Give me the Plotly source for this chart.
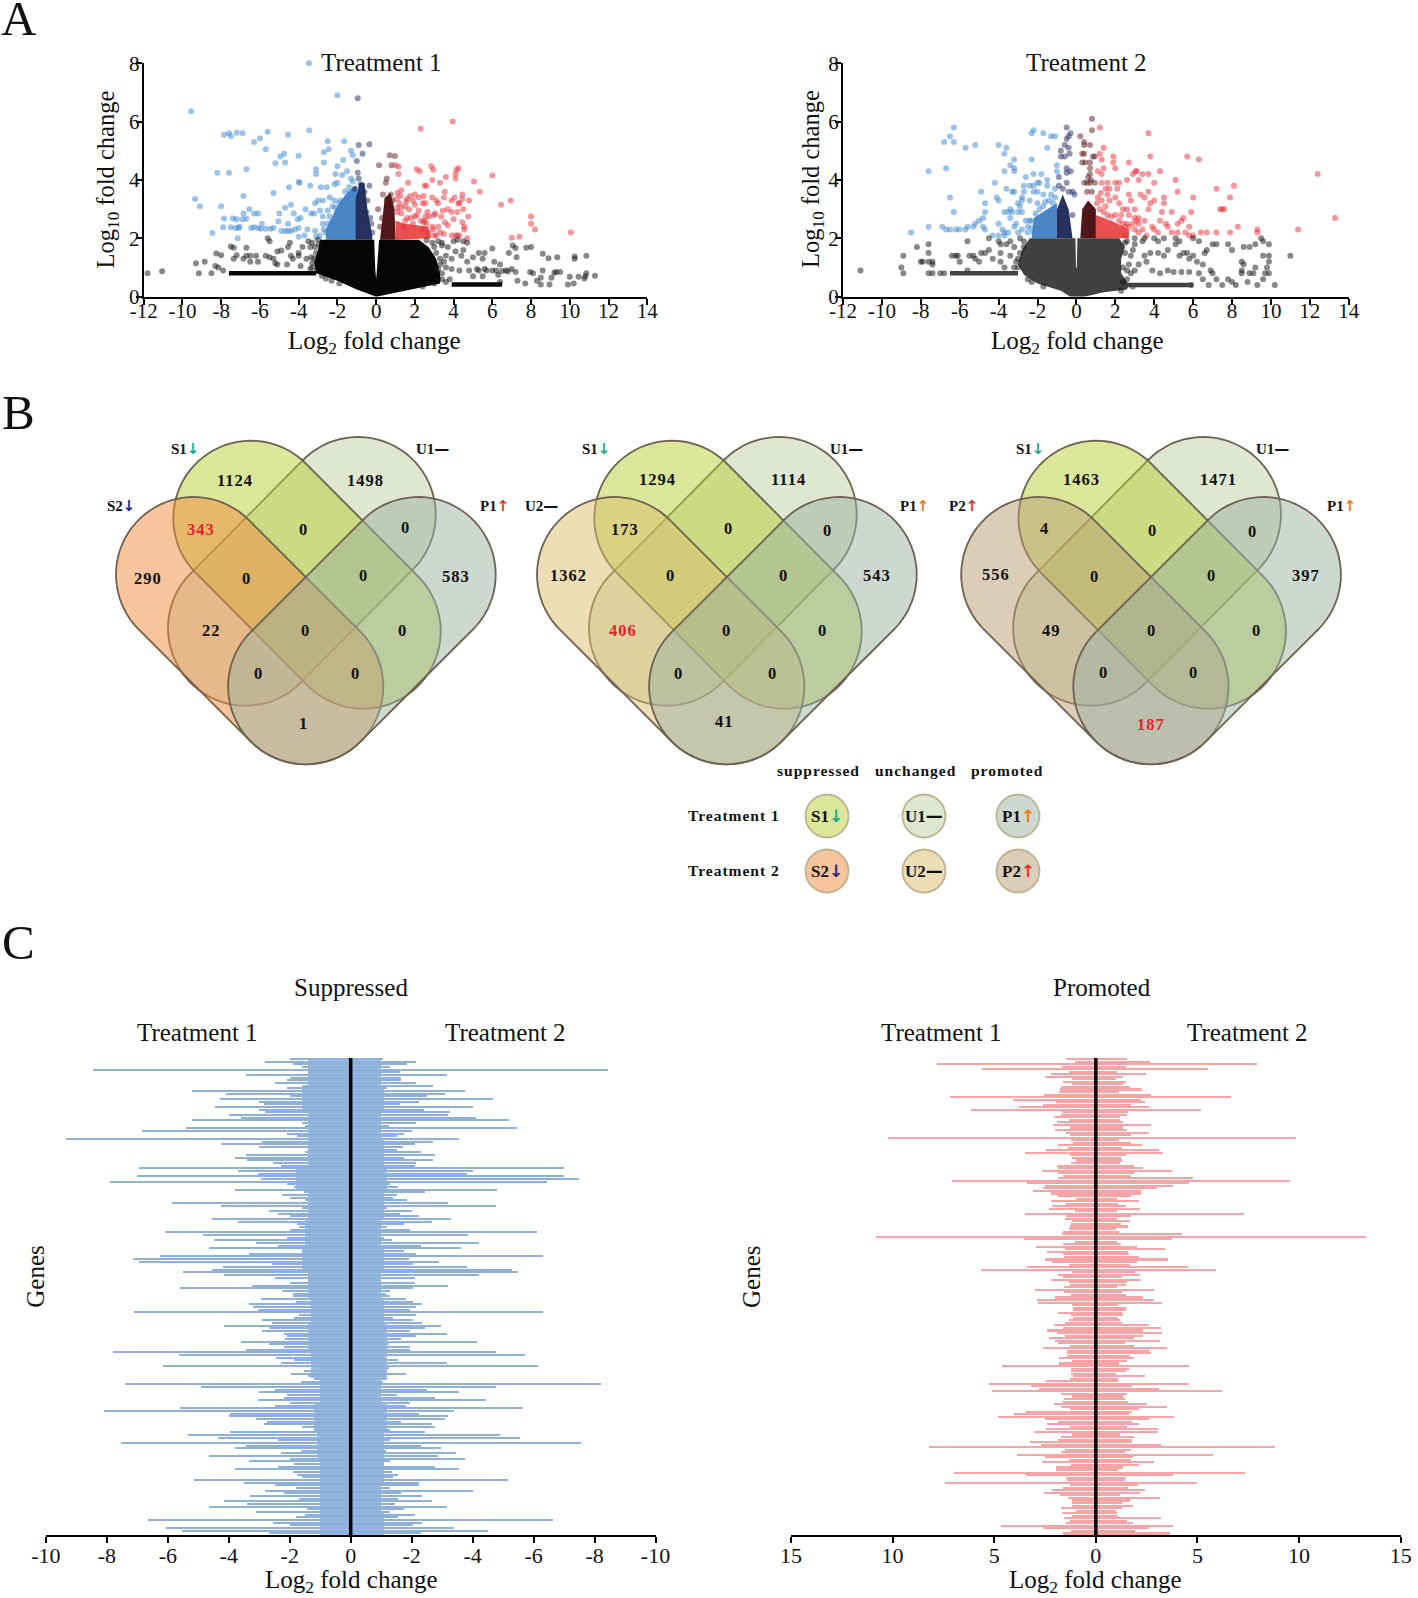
import numpy as np
import plotly.graph_objects as go

W, H = 1418, 1598
SERIF = "Liberation Serif"

# ---------- Panel A data (log2 FC, log10 FC) ----------
a1_blue = [(-3.47,8.0),(-9.55,6.35),(-7.6,5.6),(-7.85,5.55),(-7.5,5.5),(-7.2,5.62),(-6.9,5.6),(-6.3,5.3),(-6.0,5.43),(-5.6,5.65),(-5.7,5.05),(-4.55,5.55),(-3.45,5.7),(-2.0,6.9),(-2.5,5.33),(-1.65,5.33),(-2.45,5.05),(-2.7,4.95),(-1.3,5.0),(-1.2,4.85),(-4.75,4.9),(-4.95,4.8),(-4.0,4.83),(-5.2,4.57),(-4.7,4.6),(-2.7,4.6),(-1.7,4.68),(-2.0,4.47),(-6.7,4.37),(-8.2,4.25),(-7.6,4.25),(-3.1,4.37),(-3.1,4.2),(-1.5,4.3),(-1.75,4.17),(-2.1,4.2),(-2.15,3.85),(-2.0,3.9),(-1.3,4.05),(-1.2,3.95),(-4.0,3.93),(-3.95,3.9),(-3.4,3.8),(-4.5,3.75),(-2.85,3.75),(-2.55,3.75),(-5.3,3.55),(-6.85,3.45),(-9.35,3.35),(-9.1,3.1),(-8.0,3.1),(-7.85,2.68),(-7.4,2.68),(-7.2,2.65),(-6.9,2.65),(-6.85,2.85),(-6.7,2.67),(-6.55,3.0),(-6.3,2.85),(-6.1,2.85),(-5.9,2.5),(-5,2.85),(-5.05,2.58),(-4.7,3.05),(-4.4,3.15),(-4.25,2.85),(-4.55,2.5),(-4.05,2.65),(-3.9,2.7),(-3.65,3),(-3.35,2.85),(-3.2,2.85),(-7.9,2.38),(-7.5,2.38),(-7.25,2.35),(-7.1,2.35),(-7.05,2.4),(-6.45,2.35),(-6.3,2.38),(-6.1,2.35),(-5.95,2.33),(-5.7,2.33),(-5.45,2.33),(-5.3,2.35),(-4.9,2.25),(-4.7,2.25),(-4.55,2.25),(-4.4,2.25),(-4.2,2.3),(-4,2.35),(-3.55,2.3),(-3.15,2.25),(-8.45,2.18),(-7.15,2.0),(-4.0,2.05),(-3.7,2.1),(-3.1,2.05),(-2.75,2.5),(-2.7,2.3),(-2.5,2.95),(-2.25,3.1),(-3.15,3.2),(-3.0,3.3),(-2.75,3.3),(-2.4,3.4),(-2.15,3.3),(-1.9,3.2),(-1.6,3.6),(-1.5,3.4),(-1.1,3.6),(-1.4,3.75),(-2.9,2.95),(-2.6,2.2),(-2.9,2.1),(-2.5,2.5),(-2.75,2.75),(-2.4,2.75),(-2.3,2.55),(-2.1,3.05),(-1.85,3.3),(-1.35,3.55)]
a1_navy = [(-0.95,6.8),(-0.9,5.2),(-0.35,5.22),(-0.7,4.9),(-1,4.65),(-0.95,4.25),(-0.9,4.05),(-0.35,3.8),(-0.8,3.85),(-0.6,3.6),(-0.45,3.3),(-0.3,2.7),(-0.25,2.5),(-0.2,2.2),(-1.1,3.7),(-0.5,2.9)]
a1_brown = [(0.15,4.5),(0.7,4.85),(0.97,4.82),(0.8,4.5),(0.55,4.05),(0.5,3.9),(0.35,3.5),(0.55,3.3),(0.1,3.0),(0.75,3.5),(0.85,3.3),(0.3,2.7),(0.2,2.4)]
a1_red = [(3.95,6.0),(2.3,5.75),(1,4.5),(1.15,4.45),(2.1,4.37),(2.25,4.3),(2.85,4.47),(2.95,4.35),(4.25,4.4),(4.15,4.35),(4.1,4.2),(4.1,4.05),(3.6,4.1),(3.3,3.9),(2.9,4.0),(2.6,3.8),(2.5,3.8),(6,4.15),(5.05,3.95),(5.35,3.6),(4.45,3.5),(4.45,3.35),(4.05,3.4),(3.55,3.6),(3.5,3.4),(3.1,3.3),(2.9,3.4),(2.45,3.45),(2,3.5),(1.75,3.45),(1.3,3.65),(1.1,3.55),(1.65,3.9),(1.15,4.2),(6.45,3.15),(6.95,3.3),(4.8,3.3),(4.3,3.2),(4.25,3.2),(3.9,3.3),(3.7,3.0),(3.45,2.95),(3.2,3.2),(3,2.8),(2.55,3.2),(2.4,3.2),(2.65,2.9),(4.75,2.75),(4.5,3),(4.2,2.9),(4,2.65),(3.9,2.9),(3.35,2.75),(3.05,2.85),(8,2.75),(8,2.5),(8.2,2.3),(10.05,2.2),(7,2.02),(7.4,2.05),(4.7,2.0),(4.3,2.1),(4.2,2.1),(3.9,2.1),(3.1,2.1),(3.55,2.55),(3.7,2.45),(4.45,2.55),(4.55,2.4),(4.55,2.3),(4.1,2.1),(3,2.1),(2.4,2.3),(1.9,3.3),(1.5,3.1),(1.2,3.2),(1.7,3.0),(2.2,2.95),(1.3,2.85),(2.95,2.3),(3.3,2.2),(1.6,2.7),(2.0,2.75),(2.5,2.6),(2.7,2.2),(1.1,2.9),(1.3,3.05),(1.5,2.6),(1.8,2.7),(2.1,2.8),(2.3,2.6),(2.6,2.5),(2.9,2.4),(1.4,2.4),(1.9,2.5),(2.2,3.4),(1.6,3.35),(1.05,3.35),(1.25,3.45),(2.45,2.55),(2.75,2.75),(3.2,2.4),(3.5,2.15),(1.55,3.25),(2.0,3.15),(1.1,3.05),(2.55,2.75)]
a1_black = [(-11.8,0.8),(-11.05,0.87),(-9.3,1.15),(-9.15,0.8),(-8.85,1.2),(-8.5,0.8),(-8.3,1.05),(-8.15,1.0),(-8.25,1.48),(-8,1.42),(-7.9,0.9),(-7.5,1.72),(-7.35,1.68),(-7.35,1.3),(-7.2,1.42),(-6.85,1.3),(-6.7,1.68),(-6.7,1.4),(-6.5,1.4),(-6.2,1.4),(-6.1,1.2),(-6.5,1.2),(-5.7,1.4),(-5.6,2.0),(-5.5,1.9),(-5.5,1.35),(-5.3,1.3),(-5.2,1.15),(-5.1,1.55),(-5.1,1.1),(-4.9,1.58),(-4.6,1.1),(-4.55,1.7),(-4.45,1.85),(-4.4,1.4),(-4.3,1.3),(-4,1.4),(-4.0,1.5),(-3.9,1.05),(-3.8,1.7),(-3.6,1.3),(-3.5,1.9),(-3.4,1.7),(-3.3,1.15),(-3.1,1.5),(3.2,1.9),(3.4,1.85),(3.4,1.75),(3.7,1.7),(4,1.9),(4.2,1.95),(4.5,1.9),(4.7,1.85),(4.1,1.55),(4.5,1.6),(4.4,1.4),(3.9,1.3),(3.6,1.4),(4.7,1.2),(5,1.35),(5.3,1.5),(5.6,1.5),(5.5,1.3),(6,1.65),(6.1,1.2),(6.4,1.1),(6.85,1.5),(7.05,1.75),(7.2,1.67),(7.25,1.35),(7.75,1.68),(8,1.7),(8.6,1.47),(8.9,1.32),(9.35,1.35),(10.25,1.38),(10.25,1.3),(10.85,1.4),(10.85,.8),(10.8,.7),(10.75,.62),(10.45,.68),(10.2,.45),(10,.68),(9.9,.42),(9.2,.82),(9.05,.65),(8.95,.42),(8.5,.65),(8.5,.42),(8.3,.55),(8.1,.8),(8.6,.9),(7.95,.85),(7.7,.45),(7.3,.55),(7.2,.85),(7,.95),(6.7,.9),(6.4,.5),(6,.9),(5.6,.95),(5.2,.95),(4.8,.9),(4.3,.9),(3.9,.95),(3.6,1.0),(9.3,.85),(9.5,.85),(11.3,.72),(3.3,1.1),(3.4,.8),(3.8,.6),(3.2,.6),(5.0,.7),(5.5,.7),(6.3,.75),(-3.3,1.0),(-3.4,.95),(-3.05,.9),(-3.2,1.3),(-3.15,1.7),(-3.3,1.85),(-3.0,1.95),(-2.95,1.8),(-3.35,1.35),(-2.8,.72),(-2.6,.62),(-2.3,.55),(-1.9,.45),(3.0,1.7),(3.1,1.5),(2.9,1.85),(2.6,1.93),(3.3,1.3),(3.5,1.2),(3.4,.6),(3.0,.45),(3.6,.5),(3.2,.95),(2.4,.35),(5.3,.9),(5.7,.9),(6.2,.9),(6.5,.88),(6.8,.87)]
a1_rows = [([-7.6,-3.1],0.8),([3.9,6.5],0.42)]
a1_dense_black = [(-0.1,0.02),(-1,0.25),(-2,0.55),(-3.1,0.8),(-3.2,1.2),(-3.0,1.6),(-2.9,1.95),(-0.1,1.95),(-0.05,1.0),(0,0.6),(0.05,1.0),(0.15,1.95),(2.2,1.95),(2.7,1.7),(3.1,1.3),(3.3,.8),(3.3,.45),(2,.27),(1,.12),(0.3,.03),(0,0)]
a1_dense_blue = [(-2.6,1.95),(-2.6,2.3),(-2.3,2.7),(-2.1,3.0),(-1.7,3.4),(-1.2,3.75),(-1,3.8),(-1,1.95)]
a1_dense_navy = [(-1.05,1.95),(-1.05,3.4),(-0.85,3.9),(-0.6,3.9),(-0.45,3.0),(-0.2,2.1),(-0.2,1.95)]
a1_dense_brown = [(0.2,1.95),(0.3,2.5),(0.45,3.4),(0.75,3.55),(0.95,3.0),(1.0,1.95)]
a1_dense_red = [(1,1.95),(1,2.6),(1.5,2.5),(2.7,2.4),(2.85,2.0)]

a2_blue = [(-6.3,5.8),(-6.5,5.5),(-6.8,5.3),(-6.3,5.3),(-5.7,5.1),(-5.2,5.2),(-4,5.2),(-3.6,5.1),(-3.7,4.9),(-3.2,4.7),(-3.4,4.5),(-3.2,4.4),(-3.7,4.3),(-3.2,4.3),(-6.7,4.4),(-7.6,4.3),(-2.3,5.6),(-2.2,5.7),(-1.7,5.6),(-1.3,5.5),(-1.1,5.5),(-1.5,5.1),(-2.3,4.7),(-1,4.5),(-1,4.3),(-1.8,4.2),(-2.2,4.2),(-2.6,4.1),(-4.2,3.9),(-1.5,4.0),(-2.7,3.8),(-2.4,3.8),(-2.2,3.8),(-2,3.9),(-1.9,3.9),(-1.5,3.8),(-3.6,3.7),(-2.7,3.6),(-2.2,3.6),(-2,3.6),(-3.3,3.6),(-3.2,3.6),(-4.9,3.6),(-6.5,3.4),(-4.1,3.4),(-4,3.3),(-4.7,3.2),(-2.8,3.4),(-2.8,3.3),(-3,3.2),(-2.9,3.1),(-2.4,3.3),(-2,3.2),(-1.7,3.1),(-1.2,3.2),(-6.3,2.9),(-3.4,3),(-3.5,2.9),(-3.7,2.9),(-3.3,2.9),(-3,2.9),(-2.8,2.9),(-4.7,2.9),(-4.8,2.7),(-3.4,2.7),(-5,2.6),(-5.2,2.5),(-5.3,2.4),(-5.6,2.4),(-5.7,2.3),(-6,2.3),(-6.2,2.3),(-6.7,2.3),(-6.5,2.3),(-6.9,2.4),(-7.6,2.4),(-8.5,2.2),(-4,2.5),(-3.8,2.3),(-3.7,2.2),(-3.5,2.2),(-4.3,2.1),(-4,2.1),(-3.7,2.1),(-4.8,2.4),(-4.7,2.3),(-3.1,2.5),(-3.2,2.4),(-3,2.2),(-2.8,2.3),(-2.6,2.6),(-2.4,2.6),(-2.5,2.2),(-2.2,2.2),(-1.7,3.5),(-1.3,3.5),(-1.1,3.7),(-2.35,2.6),(-2.1,2.85),(-1.9,3.0),(-1.6,3.25),(-1.4,3.3),(-1.1,3.4),(-2.3,2.35),(-2.5,2.4)]
a2_navy = [(-0.5,5.8),(-0.3,5.6),(-0.4,5.5),(-0.5,5.4),(-0.6,5.2),(-0.4,5.1),(-0.8,5),(-0.35,4.9),(-0.8,4.8),(-0.6,4.8),(-0.5,4.4),(-0.3,4.3),(-0.5,4.25),(-0.9,4.1),(-0.9,3.8),(-0.5,3.9),(-0.2,3.6),(-0.1,3.5),(-0.2,2.8),(-0.7,3.7),(-0.4,3.6)]
a2_brown = [(0.8,6.1),(0.8,5.7),(0.2,5.5),(0.4,5.3),(0.4,5.2),(0.7,5.2),(0.3,4.9),(0.4,4.9),(0.95,4.8),(0.85,4.8),(0.3,4.6),(0.45,4.6),(0.7,4.6),(0.7,4.4),(0.7,4.2),(0.6,4.1),(0.75,4),(0.4,3.9),(0.55,3.9),(0.7,3.9),(0.95,3.9),(0.55,3.6),(0.8,3.6)]
a2_red = [(1.2,5.8),(3.7,5.6),(1.4,5.1),(1.2,4.9),(1.9,4.8),(3.8,4.8),(5.7,4.8),(6.3,4.7),(1.3,4.7),(1.9,4.6),(2.7,4.6),(1.4,4.4),(2,4.4),(1.1,4.3),(3.05,4.3),(3.1,4.3),(2.9,4.2),(3.4,4.2),(3.7,4.2),(4.3,4.3),(1.3,4.2),(2.6,4),(3.2,4),(5.1,4),(12.4,4.2),(1.3,3.9),(1.6,3.9),(2,3.9),(2.2,3.9),(4,3.9),(8.1,3.8),(7.2,3.7),(1.5,3.7),(1.7,3.7),(2.1,3.7),(3.7,3.6),(5.2,3.6),(2.7,3.5),(3.3,3.5),(3.5,3.4),(6,3.4),(7.9,3.4),(4.5,3.4),(2.8,3.3),(4,3.3),(4.5,3.2),(3.8,3.2),(3,3),(3.7,3),(7.4,3),(7.5,3),(7.6,3),(13.3,2.7),(4.4,2.9),(4.9,2.9),(5.9,2.9),(3.2,2.7),(3.1,2.6),(3.5,2.6),(4.3,2.6),(4.6,2.5),(4.7,2.4),(5.2,2.5),(5.4,2.6),(5.5,2.7),(5.8,2.4),(6,2.1),(6.4,2.2),(6.7,2.2),(7.2,2.2),(7.9,2.2),(8.3,2.4),(9.3,2.3),(9.3,2.2),(11.4,2.3),(5.6,2.2),(5.8,2.1),(3.9,2.4),(4,2.3),(3.6,2.1),(3.2,2.2),(2.5,2.1),(2.5,2.4),(2.7,2.4),(3,2.3),(4.2,2.2),(4.9,2.2),(5.2,2.2),(1.3,3.3),(1.7,3.3),(2.2,3.2),(2.6,3.0),(1.5,3.1),(2.3,2.8),(1.05,3.2),(1.2,3.0),(1.4,2.9),(1.6,2.8),(1.8,2.75),(2,2.8),(2.2,2.6),(2.4,2.5),(2.6,2.5),(2.9,2.5),(3.2,2.5),(3.4,2.3),(1.1,3.4),(1.25,3.55),(1.6,3.5),(2.0,3.4),(2.4,3.0),(2.7,2.8),(3.0,2.7)]
a2_black = [(-11.1,.9),(-8.9,1.4),(-9,1),(-8.9,.8),(-8.2,1.7),(-8,1.2),(-7.9,1.2),(-7.6,1.8),(-7.6,1.5),(-7.6,1.2),(-7.4,1.1),(-7.6,.8),(-7.4,.8),(-7.4,1.2),(-7.0,.8),(-6.8,.8),(-6.4,1.4),(-6.2,1.4),(-6.1,1.4),(-6,1.2),(-5.6,1.9),(-5.5,1.4),(-5.3,1.4),(-5.2,1.3),(-5,1.2),(-4.9,1.5),(-4.7,1.5),(-4.5,1.6),(-4.5,2),(-4.3,1.3),(-4,1.9),(-3.9,1.8),(-3.9,1.5),(-3.6,1.8),(-3.9,1.2),(-3.7,1.0),(-3.4,1.4),(-3.4,1.9),(-3.2,1.7),(-2.9,2),(-3,1.3),(-3,1),(-2.7,1.7),(-5.6,.9),(2.6,1.9),(3,2),(3.4,1.9),(3.5,2),(4,2),(4.2,1.9),(4.5,2),(5.1,2),(5.3,1.9),(6,2),(6.3,1.9),(7,1.8),(7.2,1.8),(7.8,1.8),(8,1.6),(8.6,1.7),(8.9,1.7),(9.2,1.8),(9.5,2),(9.6,1.9),(9.9,1.8),(11,1.4),(9.6,1.4),(9.9,1.4),(9.9,1.2),(9.8,1),(9.2,1),(8.5,1.2),(8.6,1.1),(8.5,.9),(8.5,.8),(8.9,.8),(9.1,.8),(9.7,.8),(9.9,.8),(9.6,.6),(8.8,.5),(9.3,.4),(10.2,.4),(8.2,.4),(8,.5),(7.8,.6),(7.5,.4),(7.2,.6),(7,.8),(6.8,.4),(6.9,.9),(6.5,1.1),(6.2,1.2),(6,1.4),(6.6,1.5),(6.7,1.6),(5.7,1.5),(5.8,1.3),(5.5,1.5),(5.3,1.4),(5.1,1.8),(4.7,1.6),(4.5,1.4),(4.2,1.5),(3.8,1.5),(3.5,1.4),(3.6,1.2),(3.2,1.1),(3,.9),(3.9,.9),(4.3,.8),(4.7,.9),(5,.85),(5.4,.85),(5.8,.85),(6.3,.8),(6.5,.6),(5.9,.4),(2.9,1.6),(3,1.8),(2.8,1.4),(2.7,1.1),(2.8,.8),(-3.1,1.2),(-3.2,1.0),(-2.9,1.5),(-2.7,1.9),(-2.5,.6),(-2.3,.5),(-1.7,.35),(2.5,1.85),(2.5,1.5),(2.4,1.0),(2.6,.9),(2.6,.6),(2.4,.5),(2.9,.35),(2.3,.2)]
a2_rows = [([-6.5,-3.0],0.8),([2.6,6.0],0.4)]
a2_dense_black = [(-0.3,0),(-0.8,.2),(-2,.45),(-2.7,.75),(-3,1.1),(-2.8,1.6),(-2.4,2),(-0.05,2),(-0.02,1.0),(0.02,1.0),(0.05,2),(2.2,2),(2.5,1.7),(2.3,1.3),(2.3,.8),(2.7,.4),(2.6,.25),(1.4,.15),(0.4,0)]
a2_dense_blue = [(-2.3,2.0),(-2.2,2.7),(-1.5,3.0),(-1.0,3.2),(-1.0,2.0)]
a2_dense_navy = [(-1.0,2.0),(-1.0,3.0),(-0.7,3.5),(-0.4,3.0),(-0.2,2.0)]
a2_dense_brown = [(0.2,2.0),(0.3,3.0),(0.6,3.3),(1.0,3.0),(1.0,2.0)]
a2_dense_red = [(1,2),(1,2.8),(1.8,2.6),(2.7,2.3),(2.7,2)]

x_ticks_a = list(range(-12, 15, 2))
y_ticks_a = [0, 2, 4, 6, 8]

# ---------- Panel B data ----------
venn_counts = [
    [("1124",231,471),("1498",359,471),("343",197,519),("0",298,519),("0",398,517),("290",145,567),("0",242,567),("0",357,565),("583",447,566),("22",207,618),("0",300,618),("0",395,618),("0",254,661),("0",349,661),("1",298,710)],
    [("1294",645,470),("1114",773,470),("173",613,519),("0",715,518),("0",812,520),("1362",558,565),("0",658,565),("0",769,565),("543",860,565),("406",611,618),("0",713,618),("0",807,618),("0",666,661),("0",758,661),("41",711,708)],
    [("1463",1061,470),("1471",1195,470),("4",1025,518),("0",1131,520),("0",1229,521),("556",977,564),("0",1074,566),("0",1188,565),("397",1281,565),("49",1031,618),("0",1130,618),("0",1233,618),("0",1082,660),("0",1171,660),("187",1129,711)],
]
venn_red_counts = ["343", "406", "187"]
venn_centers = [305.7, 726.7, 1150.9]
venn_big_colors = ["rgba(239,137,61,.5)", "rgba(219,187,107,.5)", "rgba(185,155,113,.5)"]
ARROW = {"S1": ("↓", "#14AE8C"), "S2": ("↓", "#1F2A7A"), "U1": ("—", "#111"), "U2": ("—", "#111"), "P1o": ("↑", "#F07A13"), "P1r": ("↑", "#E8321F"), "P2": ("↑", "#E8321F")}
venn_labels = [
    [("S1",181,440),("U1",424,440),("S2",119,496),("P1r",485,496)],
    [("S1",585,440),("U1",830,440),("U2",531,496),("P1o",897,496)],
    [("S1",1010,440),("U1",1248,440),("P2",945,496),("P1o",1316,496)],
]

# ---------- Panel C data: magnitudes per gene, read row by row ----------
sup_t1 = [2.0,2.8,1.9,1.6,8.45,1.4,3.45,2.0,2.1,2.5,1.5,2.1,5.2,4.1,2.0,4.3,3.0,2.85,4.45,3.0,2.8,4.0,3.6,5.2,1.6,1.5,5.4,6.85,2.1,1.75,9.35,2.9,4.25,3.0,1.4,1.5,3.45,3.8,3.4,2.55,2.3,6.95,3.7,3.05,7.0,2.95,7.9,2.1,1.85,3.8,1.55,2.25,2.0,1.5,5.85,4.25,1.6,2.7,2.4,2.0,4.55,3.7,1.75,1.7,2.0,6.1,4.85,2.1,4.5,3.1,2.4,4.65,1.6,3.35,6.25,7.15,6.95,2.6,4.2,4.55,5.5,4.15,2.5,1.4,2.0,3.25,5.6,2.25,1.9,1.9,2.95,1.8,3.35,3.2,3.05,
          7.1,1.7,1.85,2.9,2.6,4.15,2.7,2.9,2.2,2.1,2.15,3.6,2.7,2.2,3.45,7.8,5.65,2.45,1.85,2.3,6.15,1.0,1.55,1.95,1.4,1.2,1.65,7.4,4.9,2.5,3.0,2.1,2.2,3.05,2.0,2.5,5.6,8.1,3.95,4.0,3.1,2.75,2.85,1.6,1.2,3.95,5.35,4.35,2.4,7.55,3.45,3.8,1.65,2.3,4.65,2.0,3.35,1.85,2.4,3.8,1.9,1.75,1.6,5.15,3.5,2.5,1.8,2.8,2.2,3.3,1.7,4.15,3.4,4.65,1.45,3.1,1.5,1.8,6.65,2.55,2.0,6.05,5.55,2.7]
sup_t2 = [1.07,2.15,1.85,1.3,8.45,1.6,3.15,1.65,1.65,2.15,2.7,1.2,3.75,3.1,2.5,4.65,2.25,1.6,4.0,2.4,3.25,3.2,4.1,5.2,2.15,1.25,5.45,2.0,1.75,1.5,3.55,2.7,2.1,1.7,1.5,2.3,2.75,1.75,2.7,2.15,2.1,7.0,4.0,3.8,7.0,7.5,6.45,1.3,1.55,4.8,2.45,1.5,1.4,1.85,3.2,4.75,1.2,2.0,1.6,2.25,3.3,2.65,1.75,1.2,1.95,6.1,3.85,1.1,1.35,4.2,2.3,3.6,1.75,2.15,6.3,1.9,2.9,2.05,3.8,5.3,5.5,4.2,2.1,1.0,2.1,3.2,2.05,1.3,1.15,1.3,1.8,2.05,2.35,2.15,1.95,
          6.3,2.15,1.4,2.05,2.35,2.95,2.45,1.95,3.15,2.15,1.65,4.15,1.25,1.95,1.95,4.75,5.7,1.1,1.55,3.15,6.15,1.25,1.2,1.8,1.15,1.2,1.05,8.2,4.75,2.5,3.55,1.5,2.75,4.45,1.95,1.8,5.65,3.4,2.25,3.2,3.1,1.65,2.65,2.75,1.3,2.45,4.9,5.55,1.3,7.55,2.3,2.95,1.15,3.45,2.85,3.75,1.3,1.1,2.75,3.55,1.35,1.55,1.4,5.15,2.25,2.25,1.3,4.0,1.65,2.35,1.55,2.65,1.45,3.15,1.75,1.3,2.1,1.55,6.65,2.35,2.05,3.4,4.5,2.3]
# silhouette of the solid core, one reading per 10 rows
sup_core_t1 = [1.4,1.6,1.4,1.4,1.8,1.4,1.5,1.6,1.4,1.3,1.4,1.3,1.0,1.2,1.1,1.0,1.0,1.0]
sup_core_t2 = [1.0,1.1,1.0,1.1,1.2,1.1,1.0,1.1,1.0,1.1,1.2,1.2,1.0,1.2,1.1,1.1,1.0,1.1]
pro_t1 = [1.45,1.05,7.8,1.65,5.6,1.3,2.2,2.5,1.15,1.6,1.15,1.7,1.75,1.8,2.55,7.2,4.1,1.95,2.6,3.8,6.15,1.65,1.7,2.05,1.3,1.9,2.1,1.25,2.0,1.45,1.25,10.25,1.2,1.1,1.85,1.35,2.45,3.5,1.25,1.15,1.0,1.2,1.9,1.85,2.65,1.85,1.6,1.85,7.1,3.4,2.5,2.6,3.1,2.2,1.85,1.0,2.2,1.45,2.15,2.3,1.05,3.5,1.45,1.5,1.15,1.2,1.25,1.3,1.6,1.65,10.8,3.55,1.05,1.6,2.95,1.5,2.4,1.6,1.55,2.5,2.15,1.3,3.4,5.65,1.15,1.85,1.6,2.2,1.3,1.25,1.55,3.0,1.55,1.2,2.0,2.9,2.85,1.15,1.1,
          1.1,1.85,1.2,1.1,1.3,1.5,2.05,1.6,2.4,1.9,1.5,2.3,2.0,1.85,1.25,2.6,1.4,1.4,1.4,1.8,1.15,1.8,4.6,1.2,1.2,1.2,1.1,1.25,2.45,5.25,3.2,2.8,5.1,1.7,1.15,1.55,1.6,2.05,1.7,1.25,3.45,4.05,4.8,2.5,1.85,2.4,1.25,2.45,3.05,1.15,1.7,1.85,3.25,2.7,8.2,1.5,1.7,3.9,2.5,1.3,2.65,1.2,1.95,1.95,7.0,3.45,1.45,1.4,7.4,1.25,1.6,2.15,2.55,1.75,1.35,1.15,1.15,1.15,1.7,1.0,1.65,1.15,1.55,1.25,1.45,4.65,2.6,1.2,1.6]
pro_t2 = [1.55,2.65,7.95,1.5,5.5,1.05,2.45,1.35,1.0,1.5,1.35,1.7,2.25,1.15,2.7,6.65,2.2,2.4,1.75,2.6,5.15,1.6,1.55,1.2,1.2,1.35,2.7,1.35,1.55,2.6,1.75,9.85,1.15,1.75,2.25,1.3,3.1,3.3,1.5,1.25,1.3,1.2,1.9,2.3,3.75,1.9,1.75,4.8,9.55,4.6,3.8,3.0,2.2,2.2,1.75,1.05,2.1,1.1,1.5,2.15,1.05,7.3,1.75,1.05,1.7,1.25,1.6,1.0,1.15,4.25,13.3,3.75,1.05,1.25,2.0,3.4,1.6,1.65,2.1,3.55,2.0,1.7,4.55,5.9,1.95,2.15,1.3,2.2,1.55,1.5,1.05,2.85,1.3,1.5,2.3,2.85,3.25,1.1,1.5,
          1.5,1.3,1.35,1.1,1.2,1.3,2.6,3.2,2.3,3.25,2.3,1.9,3.15,1.45,1.9,3.5,2.6,2.7,1.7,1.9,1.55,1.15,4.6,1.65,1.5,1.0,2.4,1.1,1.1,4.6,1.8,3.1,6.2,1.55,1.35,1.45,1.6,2.5,3.5,2.1,1.8,1.65,3.85,2.6,1.8,2.1,1.55,3.05,3.05,1.2,1.9,1.8,1.8,3.2,8.8,1.75,1.45,5.75,1.85,1.75,2.85,2.1,1.35,1.1,7.35,3.8,1.5,1.45,5.0,2.05,1.6,2.4,2.15,1.2,3.15,1.7,1.3,1.85,1.3,1.0,1.05,1.1,3.2,1.55,1.85,3.8,2.6,1.95,3.65]
x_ticks_c1 = [-10,-8,-6,-4,-2,0,2,4,6,8,10]
x_labels_c1 = ["-10","-8","-6","-4","-2","0","-2","-4","-6","-8","-10"]
x_ticks_c2 = [-15,-10,-5,0,5,10,15]
x_labels_c2 = ["15","10","5","0","5","10","15"]
LEG_ROWS = [("Treatment 1", [("S1",827,816,"#DAE79A"),("U1",924,816,"#DFE7D0"),("P1o",1018,816,"#CDD8D0")], 816),
            ("Treatment 2", [("S2",827,871,"#F7C49E"),("U2",924,871,"#EDDDB5"),("P2",1018,871,"#DCCDB8")], 871)]

# ---------- helpers ----------
fig = go.Figure()

def dom_x(a, b): return [a / W, b / W]
def dom_y(top, bottom): return [1 - bottom / H, 1 - top / H]

def ann(text, x, y, size=25, color="#111", bold=False, rot=0):
    if bold:
        text = "<b>" + text + "</b>"
    fig.add_annotation(text=text, x=x, y=y, xref="x5", yref="y5", showarrow=False, textangle=rot,
                       font=dict(family=SERIF, size=size, color=color), xanchor="center", yanchor="middle")

def stadium(c1, c2, r):
    a = np.arctan2(c2[1] - c1[1], c2[0] - c1[0])
    t1 = a + np.linspace(np.pi / 2, 3 * np.pi / 2, 40)
    t2 = a + np.linspace(-np.pi / 2, np.pi / 2, 40)
    xs = np.r_[c1[0] + r * np.cos(t1), c2[0] + r * np.cos(t2)]
    ys = np.r_[c1[1] + r * np.sin(t1), c2[1] + r * np.sin(t2)]
    return "M" + "L".join(f"{x:.1f},{y:.1f}" for x, y in zip(xs, ys)) + "Z"

def scat(pts, color, ax, alpha=.5, size=6):
    xs, ys = zip(*pts)
    fig.add_trace(go.Scatter(x=xs, y=ys, mode="markers", xaxis=ax[0], yaxis=ax[1], cliponaxis=False, showlegend=False,
                             marker=dict(size=size, color=color, opacity=alpha, line=dict(width=0))))

def dense(pts, color, ax):
    xs, ys = zip(*pts)
    fig.add_trace(go.Scatter(x=list(xs) + [xs[0]], y=list(ys) + [ys[0]], mode="lines", fill="toself", fillcolor=color,
                             line=dict(width=0, color=color), xaxis=ax[0], yaxis=ax[1], showlegend=False))

def volcano(ax, rows, blk, blue, navy, brown, red, dblack, dblue, dnavy, dbrown, dred, black_col):
    dense(dblue, "rgba(54,120,190,.9)", ax); dense(dnavy, "rgba(26,38,90,.95)", ax); dense(dbrown, "rgba(72,10,12,.95)", ax); dense(dred, "rgba(228,48,46,.85)", ax)
    scat(blue, "#3C85CF", ax); scat(navy, "#1E2A5E", ax); scat(brown, "#5A1A1A", ax); scat(red, "#E8303A", ax)
    dense(dblack, black_col, ax)
    scat(blk, "#111111", ax, alpha=.5)
    for xr, y in rows:
        fig.add_trace(go.Scatter(x=xr, y=[y, y], mode="lines", line=dict(color=black_col, width=4.5), xaxis=ax[0], yaxis=ax[1], showlegend=False))

def butterfly(ax, left, right, core_l, core_r, color, core_color, thick):
    n = len(left)
    rows = list(range(n))
    if core_l:
        cl = np.repeat(core_l, 10)[:n]; cr = np.repeat(core_r, 10)[:n]
        cl = np.r_[cl, np.full(n - len(cl), cl[-1])]; cr = np.r_[cr, np.full(n - len(cr), cr[-1])]
        fig.add_trace(go.Bar(y=rows, x=-cl, orientation="h", width=1.0, marker=dict(color=core_color, line=dict(width=0)), xaxis=ax[0], yaxis=ax[1], showlegend=False))
        fig.add_trace(go.Bar(y=rows, x=cr, orientation="h", width=1.0, marker=dict(color=core_color, line=dict(width=0)), xaxis=ax[0], yaxis=ax[1], showlegend=False))
    fig.add_trace(go.Bar(y=rows, x=-np.array(left), orientation="h", width=thick, marker=dict(color=color, line=dict(width=0)), xaxis=ax[0], yaxis=ax[1], showlegend=False))
    fig.add_trace(go.Bar(y=rows, x=np.array(right), orientation="h", width=thick, marker=dict(color=color, line=dict(width=0)), xaxis=ax[0], yaxis=ax[1], showlegend=False))
    fig.add_trace(go.Scatter(x=[0, 0], y=[-.5, n - .5], mode="lines", line=dict(color="black", width=3.5), cliponaxis=False, xaxis=ax[0], yaxis=ax[1], showlegend=False, hoverinfo="skip"))

# ---------- panel A ----------
volcano(("x","y"), a1_rows, a1_black, a1_blue, a1_navy, a1_brown, a1_red, a1_dense_black, a1_dense_blue, a1_dense_navy, a1_dense_brown, a1_dense_red, "#050505")
volcano(("x2","y2"), a2_rows, a2_black, a2_blue, a2_navy, a2_brown, a2_red, a2_dense_black, a2_dense_blue, a2_dense_navy, a2_dense_brown, a2_dense_red, "#414141")

# ---------- panel C ----------
butterfly(("x3","y3"), sup_t1, sup_t2, sup_core_t1, sup_core_t2, "#8DB1DC", "#9CBBDF", 0.55)
butterfly(("x4","y4"), pro_t1, pro_t2, None, None, "#F5A5A6", None, 0.62)

# dummy trace so that the overlay canvas axes exist
fig.add_trace(go.Scatter(x=[0], y=[0], xaxis="x5", yaxis="y5", mode="markers", marker=dict(opacity=0), showlegend=False, hoverinfo="skip"))

def ax_style(size, standoff):
    return dict(showgrid=False, zeroline=False, showline=True, linecolor="black", linewidth=2, ticks="outside", tickwidth=2, ticklen=6,
                tickcolor="black", ticklabelstandoff=standoff, tickfont=dict(family=SERIF, size=size, color="#111"))
Y_TOP, Y_BOT = 63.2, 296.7
x_labels_a = [str(v) for v in x_ticks_a]
fig.update_layout(
    width=W, height=H, autosize=False, margin=dict(l=0, r=0, t=0, b=0, autoexpand=False), paper_bgcolor="white", plot_bgcolor="rgba(0,0,0,0)",
    barmode="overlay", bargap=0, showlegend=False, font=dict(family=SERIF),
    xaxis=dict(domain=dom_x(143.7, 647.3), range=[-12, 14], tickvals=x_ticks_a, ticktext=x_labels_a, anchor="y", **ax_style(21, -12)),
    yaxis=dict(domain=dom_y(Y_TOP, Y_BOT), range=[0, 8], tickvals=y_ticks_a, anchor="x", **ax_style(21, -8)),
    xaxis2=dict(domain=dom_x(843, 1348.7), range=[-12, 14], tickvals=x_ticks_a, ticktext=x_labels_a, anchor="y2", **ax_style(21, -12)),
    yaxis2=dict(domain=dom_y(Y_TOP, Y_BOT), range=[0, 8], tickvals=y_ticks_a, anchor="x2", **ax_style(21, -8)),
    xaxis3=dict(domain=dom_x(45.9, 655.5), range=[-10, 10], tickvals=x_ticks_c1, ticktext=x_labels_c1, anchor="y3", **ax_style(22, -6)),
    yaxis3=dict(domain=dom_y(1058, 1535), range=[len(sup_t1) - .5, -.5], visible=False, anchor="x3"),
    xaxis4=dict(domain=dom_x(791, 1400.7), range=[-15, 15], tickvals=x_ticks_c2, ticktext=x_labels_c2, anchor="y4", **ax_style(22, -6)),
    yaxis4=dict(domain=dom_y(1058, 1535), range=[len(pro_t1) - .5, -.5], visible=False, anchor="x4"),
    xaxis5=dict(domain=[0, 1], range=[0, W], visible=False, fixedrange=True, anchor="y5"),
    yaxis5=dict(domain=[0, 1], range=[H, 0], visible=False, fixedrange=True, anchor="x5"),
)

# ---------- panel B shapes ----------
shapes = []
R = 77.6
for cx, big in zip(venn_centers, venn_big_colors):
    cy = 574.6
    outline = dict(color="#6E6150", width=1.8)
    defs = [
        ((cx + 52.4, 514.6), (cx - 60.1, 628.1), "rgba(191,207,161,.5)"),
        ((cx - 54.8, 518.3), (cx + 57.4, 631.1), "rgba(181,207,53,.5)"),
        ((cx - 112.1, cy), (cx, cy + 112.1), big),
        ((cx + 112.4, cy), (cx, cy + 112.1), "rgba(155,177,161,.5)"),
    ]
    for c1, c2, col in defs:
        shapes.append(dict(type="path", path=stadium(c1, c2, R), xref="x5", yref="y5", fillcolor=col, line=outline, layer="below"))
for _, cells, _y in LEG_ROWS:
    for name, x, y, col in cells:
        shapes.append(dict(type="circle", xref="x5", yref="y5", x0=x - 21.5, x1=x + 21.5, y0=y - 21.5, y1=y + 21.5, fillcolor=col, line=dict(color="#BDB38E", width=1.8), layer="below"))
fig.update_layout(shapes=shapes)

SC = W / 1391.0
def sp(t): return f'<span style="letter-spacing:1px">{t}</span>'
for cells, redv in zip(venn_counts, venn_red_counts):
    for txt, x, y in cells:
        ann(sp(txt), x * SC, y * SC, size=16.5, bold=True, color="#E8232A" if txt == redv else "#111")

def lab(key):
    arrow, col = ARROW[key]
    return f'{key[:2]}<span style="color:{col};font-family:DejaVu Sans">{arrow}</span>'
for cells in venn_labels:
    for key, x, y in cells:
        ann(lab(key), x * SC, y * SC, size=15, bold=True)

for txt, x in [("suppressed", 818), ("unchanged", 915), ("promoted", 1007)]:
    ann(sp(txt), x, 770.7, size=15.5, bold=True)
for row, cells, y in LEG_ROWS:
    ann(sp(row), 734, y - 1, size=15.5, bold=True)
    for key, x, cy, _ in cells:
        ann(lab(key), x, cy, size=17, bold=True)

# ---------- titles ----------
ann("A", 19, 18, size=49); ann("B", 18, 412, size=49); ann("C", 18, 942, size=49)
ann("Treatment 1", 381, 62); ann("Treatment 2", 1086.7, 62)
X2 = "Log<sub>2</sub> fold change"
Y10 = "Log<sub>10</sub> fold change"
ann(X2, 374, 342); ann(X2, 1077.5, 342)
ann(Y10, 107, 179.4, rot=-90, size=24.5); ann(Y10, 812.5, 179.4, rot=-90, size=24.5)
ann("Suppressed", 350.7, 987); ann("Promoted", 1102, 987)
ann("Treatment 1", 197.8, 1032.7); ann("Treatment 2", 505.6, 1032.7)
ann("Treatment 1", 941, 1032.7); ann("Treatment 2", 1247.8, 1032.7)
ann("Genes", 34.7, 1277, rot=-90); ann("Genes", 751, 1277, rot=-90)
ann(X2, 351, 1581); ann(X2, 1095, 1581)

fig.write_html("out.html", config={"displayModeBar": False}, post_script="document.body.style.margin='0';")
